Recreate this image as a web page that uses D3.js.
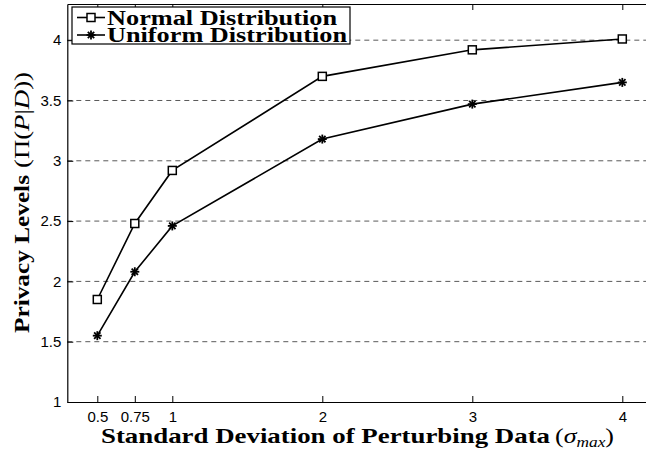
<!DOCTYPE html>
<html>
<head>
<meta charset="utf-8">
<script src="https://cdn.jsdelivr.net/npm/d3@7/dist/d3.min.js"></script>
<style>
  html, body { margin: 0; padding: 0; background: #fff; }
  svg { display: block; }
</style>
</head>
<body>
<svg id="chart" width="646" height="450"></svg>
<script>
// Standard deviation of the perturbing data (x) and privacy level per distribution
const sigmaValues = [0.5, 0.75, 1, 2, 3, 4];
const normalLevels = [1.85, 2.48, 2.92, 3.70, 3.92, 4.01];
const uniformLevels = [1.55, 2.08, 2.46, 3.18, 3.47, 3.65];
const xTickValues = [0.5, 0.75, 1, 2, 3, 4];
const xTickLabels = ["0.5", "0.75", "1", "2", "3", "4"];
const yTickValues = [1, 1.5, 2, 2.5, 3, 3.5, 4];
const yTickLabels = ["1", "1.5", "2", "2.5", "3", "3.5", "4"];
const seriesNames = ["Normal Distribution", "Uniform Distribution"];

const svg = d3.select("#chart");
const plot = { left: 67.3, right: 647.8, top: 4, bottom: 402 };

const x = d3.scaleLinear().domain([0.3, 4.17]).range([plot.left, plot.right]);
const y = d3.scaleLinear().domain([1, 4.3]).range([plot.bottom, plot.top]);

const tickFont = "'Liberation Sans', Arial, sans-serif";
const serif = "'Liberation Serif', 'Times New Roman', serif";

// dashed horizontal grid
svg.append("g")
  .selectAll("line")
  .data(yTickValues.filter(v => v > 1))
  .join("line")
  .attr("x1", plot.left).attr("x2", plot.right)
  .attr("y1", d => y(d)).attr("y2", d => y(d))
  .attr("stroke", "#5a5a5a")
  .attr("stroke-width", 1)
  .attr("stroke-dasharray", "5,4");

// axes (ticks point inward)
const xAxisBottom = d3.axisBottom(x)
  .tickValues(xTickValues)
  .tickFormat((d, i) => xTickLabels[i])
  .tickSizeInner(-6).tickSizeOuter(0).tickPadding(9);
const xAxisTop = d3.axisTop(x)
  .tickValues(xTickValues)
  .tickFormat("")
  .tickSizeInner(-6).tickSizeOuter(0);
const yAxisLeft = d3.axisLeft(y)
  .tickValues(yTickValues)
  .tickFormat((d, i) => yTickLabels[i])
  .tickSizeInner(-6).tickSizeOuter(0).tickPadding(6);

function styleAxis(g) {
  g.select(".domain").attr("stroke", "#000").attr("stroke-width", 1.2);
  g.selectAll(".tick line").attr("stroke", "#000").attr("stroke-width", 1);
  g.selectAll(".tick text")
    .attr("fill", "#000")
    .style("font-family", tickFont)
    .style("font-size", "15px");
}

svg.append("g").attr("transform", `translate(0,${plot.bottom})`).call(xAxisBottom).call(styleAxis);
svg.append("g").attr("transform", `translate(0,${plot.top})`).call(xAxisTop).call(styleAxis);
svg.append("g").attr("transform", `translate(${plot.left},0)`).call(yAxisLeft).call(styleAxis);

// series lines
const line = d3.line().x(d => x(d[0])).y(d => y(d[1]));
const normalPts = sigmaValues.map((s, i) => [s, normalLevels[i]]);
const uniformPts = sigmaValues.map((s, i) => [s, uniformLevels[i]]);

svg.append("path").datum(normalPts).attr("d", line)
  .attr("fill", "none").attr("stroke", "#000").attr("stroke-width", 1.6);
svg.append("path").datum(uniformPts).attr("d", line)
  .attr("fill", "none").attr("stroke", "#000").attr("stroke-width", 1.6);

function squareMarker(g, cx, cy) {
  g.append("rect")
    .attr("x", cx - 4).attr("y", cy - 4)
    .attr("width", 8).attr("height", 8)
    .attr("fill", "#fff").attr("stroke", "#000").attr("stroke-width", 1.5);
}
function starMarker(g, cx, cy) {
  const r = 4.5;
  [0, 45, 90, 135].forEach(a => {
    const rad = a * Math.PI / 180;
    g.append("line")
      .attr("x1", cx - r * Math.cos(rad)).attr("y1", cy - r * Math.sin(rad))
      .attr("x2", cx + r * Math.cos(rad)).attr("y2", cy + r * Math.sin(rad))
      .attr("stroke", "#000").attr("stroke-width", 1.8);
  });
}

const markers = svg.append("g");
normalPts.forEach(d => squareMarker(markers, x(d[0]), y(d[1])));
uniformPts.forEach(d => starMarker(markers, x(d[0]), y(d[1])));

// legend
const legend = svg.append("g");
legend.append("rect")
  .attr("x", 72).attr("y", 7).attr("width", 278).attr("height", 37)
  .attr("fill", "#fff").attr("stroke", "#000").attr("stroke-width", 1.2);
const legendRows = [
  { name: seriesNames[0], cy: 17.5, marker: squareMarker, len: 230 },
  { name: seriesNames[1], cy: 35, marker: starMarker, len: 240 }
];
legendRows.forEach(r => {
  legend.append("line")
    .attr("x1", 77).attr("x2", 105).attr("y1", r.cy).attr("y2", r.cy)
    .attr("stroke", "#000").attr("stroke-width", 1.6);
  r.marker(legend, 91, r.cy);
  legend.append("text")
    .attr("x", 107).attr("y", r.cy + 7)
    .attr("textLength", r.len).attr("lengthAdjust", "spacingAndGlyphs")
    .style("font-family", serif).style("font-weight", "bold").style("font-size", "20px")
    .text(r.name);
});

// x-axis title: bold words followed by the math symbol
svg.append("text")
  .attr("x", 101).attr("y", 443)
  .attr("textLength", 449).attr("lengthAdjust", "spacingAndGlyphs")
  .style("font-family", serif).style("font-weight", "bold").style("font-size", "21px")
  .attr("fill", "#000")
  .text("Standard Deviation of Perturbing Data");
const xm = svg.append("text")
  .attr("x", 555).attr("y", 443)
  .attr("textLength", 59).attr("lengthAdjust", "spacingAndGlyphs")
  .style("font-family", serif).style("font-size", "21px").attr("fill", "#000");
xm.append("tspan").text("(");
xm.append("tspan").style("font-style", "italic").text("σ");
xm.append("tspan").style("font-style", "italic").style("font-size", "14px").attr("dy", 4).text("max");
xm.append("tspan").attr("dy", -4).text(")");

// y-axis title, rotated
svg.append("text")
  .attr("transform", "translate(29,333) rotate(-90)")
  .attr("textLength", 158).attr("lengthAdjust", "spacingAndGlyphs")
  .style("font-family", serif).style("font-weight", "bold").style("font-size", "20px")
  .attr("fill", "#000")
  .text("Privacy Levels");
const ym = svg.append("text")
  .attr("transform", "translate(29,168) rotate(-90)")
  .attr("textLength", 96).attr("lengthAdjust", "spacingAndGlyphs")
  .style("font-family", serif).style("font-size", "20px").attr("fill", "#000");
ym.append("tspan").text("(Π(");
ym.append("tspan").style("font-style", "italic").text("P");
ym.append("tspan").text("|");
ym.append("tspan").style("font-style", "italic").text("D");
ym.append("tspan").text("))");
</script>
</body>
</html>
